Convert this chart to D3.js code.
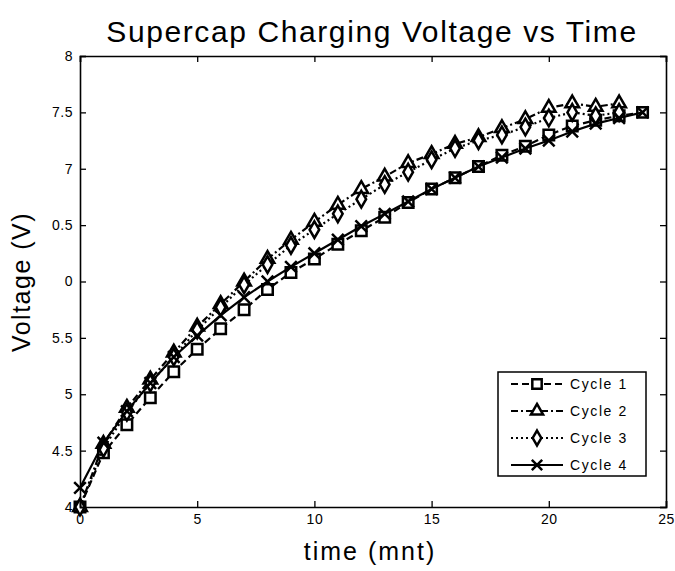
<!DOCTYPE html>
<html>
<head>
<meta charset="utf-8">
<script src="https://cdn.jsdelivr.net/npm/d3@7"></script>
<style>
  body { margin: 0; background: #fff; }
  text { font-family: "Liberation Sans", Arial, sans-serif; fill: #000; }
</style>
</head>
<body>
<div id="chart"></div>
<script>
var time1 = d3.range(0, 25);
var time2 = d3.range(0, 24);

var cycle1 = [4.0, 4.48, 4.73, 4.97, 5.2, 5.4, 5.58, 5.75, 5.93, 6.08, 6.2, 6.33, 6.45, 6.57, 6.7, 6.82, 6.92, 7.02, 7.12, 7.2, 7.3, 7.38, 7.43, 7.47, 7.5];
var cycle2 = [4.0, 4.56, 4.88, 5.13, 5.37, 5.6, 5.8, 6.0, 6.2, 6.37, 6.53, 6.68, 6.82, 6.93, 7.05, 7.13, 7.22, 7.28, 7.36, 7.44, 7.54, 7.58, 7.55, 7.58];
var cycle3 = [4.0, 4.52, 4.84, 5.1, 5.33, 5.57, 5.77, 5.97, 6.15, 6.32, 6.46, 6.6, 6.73, 6.86, 6.97, 7.08, 7.18, 7.25, 7.3, 7.37, 7.45, 7.5, 7.47, 7.5];
var cycle4 = [4.17, 4.57, 4.85, 5.1, 5.33, 5.52, 5.7, 5.86, 6.0, 6.13, 6.25, 6.37, 6.49, 6.6, 6.71, 6.82, 6.92, 7.02, 7.1, 7.18, 7.25, 7.33, 7.4, 7.45, 7.5];

var series_names = ['Cycle 1', 'Cycle 2', 'Cycle 3', 'Cycle 4'];
var x_ticks = [0, 5, 10, 15, 20, 25];
var y_ticks = [4, 4.5, 5, 5.5, 6, 6.5, 7, 7.5, 8];
var y_tick_labels = ['4', '4.5', '5', '5.5', '0', '0.5', '7', '7.5', '8'];

var chart_width  = 675;
var chart_height = 571;
var plot_left = 80, plot_right = 666, plot_top = 56, plot_bottom = 507;

var x_scale = d3.scaleLinear().domain([0, 25]).range([plot_left, plot_right]);
var y_scale = d3.scaleLinear().domain([4, 8]).range([plot_bottom, plot_top]);

var svg = d3.select('#chart')
            .append('svg')
            .attr('width', chart_width)
            .attr('height', chart_height);

// series setup
var series = [
  { name: series_names[0], t: time1, v: cycle1, dash: '7,4', symbol: d3.symbolSquare, size: 110 },
  { name: series_names[1], t: time2, v: cycle2, dash: '7,3,2,3', symbol: d3.symbolTriangle, size: 80 },
  { name: series_names[2], t: time2, v: cycle3, dash: '2,3', symbol: d3.symbolDiamond, size: 80 },
  { name: series_names[3], t: time1, v: cycle4, dash: null, symbol: d3.symbolX, size: 90 }
];

var line = d3.line()
  .x(function(d) { return x_scale(d[0]); })
  .y(function(d) { return y_scale(d[1]); });

series.forEach(function(s) {
  var pts = s.t.map(function(t, i) { return [t, s.v[i]]; });
  svg.append('path')
     .datum(pts)
     .attr('fill', 'none')
     .attr('stroke', '#000')
     .attr('stroke-width', 2.2)
     .attr('stroke-dasharray', s.dash)
     .attr('d', line);
  svg.selectAll(null)
     .data(pts)
     .enter()
     .append('path')
     .attr('transform', function(d) { return 'translate(' + x_scale(d[0]) + ',' + y_scale(d[1]) + ')'; })
     .attr('d', d3.symbol().type(s.symbol).size(s.size))
     .attr('fill', s.symbol === d3.symbolX ? '#000' : '#fff')
     .attr('stroke', '#000')
     .attr('stroke-width', 2.5);
});

// axes (MATLAB style box with inward ticks)
var x_axis = d3.axisBottom(x_scale).tickValues(x_ticks).tickSize(-6).tickPadding(7);
var y_axis = d3.axisLeft(y_scale).tickValues(y_ticks).tickSize(-6).tickPadding(7)
               .tickFormat(function(d, i) { return y_tick_labels[i]; });

svg.append('g').attr('transform', 'translate(0,' + plot_bottom + ')').call(x_axis);
svg.append('g').attr('transform', 'translate(' + plot_left + ',0)').call(y_axis);
svg.append('g').attr('transform', 'translate(0,' + plot_top + ')')
   .call(d3.axisTop(x_scale).tickValues(x_ticks).tickSize(-6).tickFormat(''));
svg.append('g').attr('transform', 'translate(' + plot_right + ',0)')
   .call(d3.axisRight(y_scale).tickValues(y_ticks).tickSize(-6).tickFormat(''));

svg.selectAll('.domain').attr('stroke', '#000').attr('stroke-width', 1.6);
svg.selectAll('.tick line').attr('stroke', '#000').attr('stroke-width', 1.3);
svg.selectAll('.tick text')
   .style('font-size', '14px')
   .style('letter-spacing', '0.5px')
   .style('font-family', '"Liberation Sans", Arial, sans-serif');

// labels
svg.append('text')
   .attr('x', 372).attr('y', 42)
   .attr('text-anchor', 'middle')
   .style('font-size', '30px')
   .style('letter-spacing', '1.6px')
   .text('Supercap Charging Voltage vs Time');

svg.append('text')
   .attr('x', 370).attr('y', 560)
   .attr('text-anchor', 'middle')
   .style('font-size', '25px')
   .style('letter-spacing', '2px')
   .text('time (mnt)');

svg.append('text')
   .attr('transform', 'translate(30,282) rotate(-90)')
   .attr('text-anchor', 'middle')
   .style('font-size', '25px')
   .style('letter-spacing', '1.5px')
   .text('Voltage (V)');

// legend
var legend = svg.append('g');
legend.append('rect')
      .attr('x', 498).attr('y', 372)
      .attr('width', 148).attr('height', 104)
      .attr('fill', '#fff')
      .attr('stroke', '#000')
      .attr('stroke-width', 1.5);

series.forEach(function(s, i) {
  var y = 384 + i * 27;
  legend.append('line')
        .attr('x1', 511).attr('x2', 563)
        .attr('y1', y).attr('y2', y)
        .attr('stroke', '#000')
        .attr('stroke-width', 2.2)
        .attr('stroke-dasharray', s.dash);
  legend.append('path')
        .attr('transform', 'translate(537,' + y + ')')
        .attr('d', d3.symbol().type(s.symbol).size(s.size * 0.8))
        .attr('fill', s.symbol === d3.symbolX ? '#000' : '#fff')
        .attr('stroke', '#000')
        .attr('stroke-width', 2.5);
  legend.append('text')
        .attr('x', 570).attr('y', y + 5)
        .style('font-size', '14px')
        .style('letter-spacing', '1.6px')
        .text(s.name);
});
</script>
</body>
</html>
